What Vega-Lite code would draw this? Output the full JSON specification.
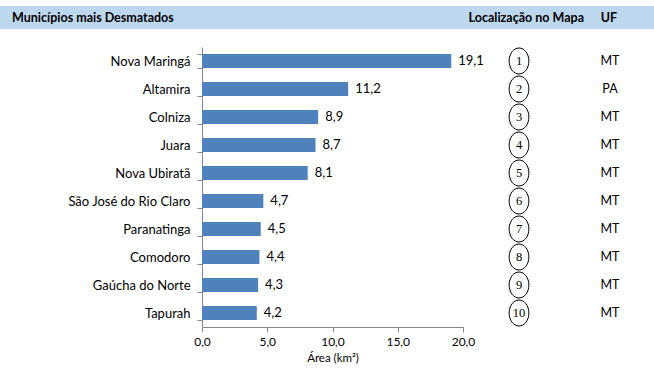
{
  "$schema": "https://vega.github.io/schema/vega-lite/v6.json",
  "padding": {"left": 0, "top": 6, "right": 0, "bottom": 0},
  "background": "white",
  "config": {
    "locale": {"number": {"decimal": ",", "thousands": ".", "grouping": [3], "currency": ["R$", ""]}},
    "font": "Lato",
    "view": {"stroke": null}
  },
  "datasets": {
    "mun": [
      {"municipio": "Nova Maringá", "area": 19.1, "rank": "1", "uf": "MT"},
      {"municipio": "Altamira", "area": 11.2, "rank": "2", "uf": "PA"},
      {"municipio": "Colniza", "area": 8.9, "rank": "3", "uf": "MT"},
      {"municipio": "Juara", "area": 8.7, "rank": "4", "uf": "MT"},
      {"municipio": "Nova Ubiratã", "area": 8.1, "rank": "5", "uf": "MT"},
      {"municipio": "São José do Rio Claro", "area": 4.7, "rank": "6", "uf": "MT"},
      {"municipio": "Paranatinga", "area": 4.5, "rank": "7", "uf": "MT"},
      {"municipio": "Comodoro", "area": 4.4, "rank": "8", "uf": "MT"},
      {"municipio": "Gaúcha do Norte", "area": 4.3, "rank": "9", "uf": "MT"},
      {"municipio": "Tapurah", "area": 4.2, "rank": "10", "uf": "MT"}
    ]
  },
  "vconcat": [
    {
      "width": 654,
      "height": 23,
      "view": {"fill": "#BDD7EE", "stroke": null},
      "data": {"values": [{}]},
      "layer": [
        {
          "mark": {"type": "text", "align": "left", "baseline": "middle", "fontWeight": "bold", "fontSize": 12.5, "color": "black"},
          "encoding": {
            "x": {"datum": "L", "type": "nominal", "axis": null, "scale": {"type": "point", "padding": 0, "domain": ["L", "R"], "range": [12, 609]}},
            "text": {"datum": "Municípios mais Desmatados"}
          }
        },
        {
          "mark": {"type": "text", "align": "right", "baseline": "middle", "fontWeight": "bold", "fontSize": 12.5, "color": "black", "dx": -25},
          "encoding": {
            "x": {"datum": "R", "type": "nominal", "axis": null, "scale": {"type": "point", "padding": 0, "domain": ["L", "R"], "range": [12, 609]}},
            "text": {"datum": "Localização no Mapa"}
          }
        },
        {
          "mark": {"type": "text", "align": "center", "baseline": "middle", "fontWeight": "bold", "fontSize": 12.5, "color": "black"},
          "encoding": {
            "x": {"datum": "R", "type": "nominal", "axis": null, "scale": {"type": "point", "padding": 0, "domain": ["L", "R"], "range": [12, 609]}},
            "text": {"datum": "UF"}
          }
        }
      ]
    },
    {
      "width": 654,
      "height": 280,
      "data": {"name": "mun"},
      "encoding": {
        "y": {"field": "municipio", "type": "nominal", "sort": null, "title": null,
              "scale": {"paddingInner": 0.5, "paddingOuter": 0.25},
              "axis": {"offset": -202, "tickBand": "extent", "domainColor": "#868686", "tickColor": "#868686",
                       "tickSize": 5, "labelFontSize": 13, "labelColor": "#000000", "labelPadding": 7, "labelFont": "Lato"}}
      },
      "layer": [
        {
          "mark": {"type": "bar", "color": "#4F81BD"},
          "encoding": {
            "x": {"field": "area", "type": "quantitative",
                  "scale": {"domain": [0, 20], "range": [202, 463], "nice": false},
                  "axis": {"values": [0, 5, 10, 15, 20], "format": ".1f", "grid": false, "title": "Área (km²)",
                           "labelFlush": false, "labelOverlap": false,
                           "domainColor": "#868686", "tickColor": "#868686", "tickSize": 5,
                           "labelFontSize": 12, "labelColor": "#000000", "labelPadding": 4,
                           "titleFontSize": 11.5, "titleFontWeight": "normal", "titleColor": "#000000", "titlePadding": 5}}
          }
        },
        {
          "mark": {"type": "text", "align": "left", "baseline": "middle", "dx": 7, "fontSize": 13, "color": "#000000"},
          "encoding": {
            "x": {"field": "area", "type": "quantitative", "axis": null, "scale": {"domain": [0, 20], "range": [202, 463], "nice": false}},
            "text": {"field": "area", "type": "quantitative", "format": ".1f"}
          }
        },
        {
          "mark": {"type": "point", "filled": false, "stroke": "#000000", "strokeWidth": 1, "opacity": 1,
                   "shape": "M -0.76,0 A 0.76,1 0 1,0 0.76,0 A 0.76,1 0 1,0 -0.76,0 Z", "size": 676},
          "encoding": {
            "x": {"datum": "loc", "type": "nominal", "axis": null,
                  "scale": {"type": "point", "padding": 0, "domain": ["loc", "uf"], "range": [519, 610]}}
          }
        },
        {
          "mark": {"type": "text", "align": "center", "baseline": "middle", "font": "Liberation Serif", "fontSize": 12.5, "color": "#000000"},
          "encoding": {
            "x": {"datum": "loc", "type": "nominal", "axis": null,
                  "scale": {"type": "point", "padding": 0, "domain": ["loc", "uf"], "range": [519, 610]}},
            "text": {"field": "rank"}
          }
        },
        {
          "mark": {"type": "text", "align": "center", "baseline": "middle", "fontSize": 12.5, "color": "#000000"},
          "encoding": {
            "x": {"datum": "uf", "type": "nominal", "axis": null,
                  "scale": {"type": "point", "padding": 0, "domain": ["loc", "uf"], "range": [519, 610]}},
            "text": {"field": "uf"}
          }
        }
      ],
      "resolve": {"scale": {"x": "independent"}}
    }
  ],
  "spacing": 12
}
